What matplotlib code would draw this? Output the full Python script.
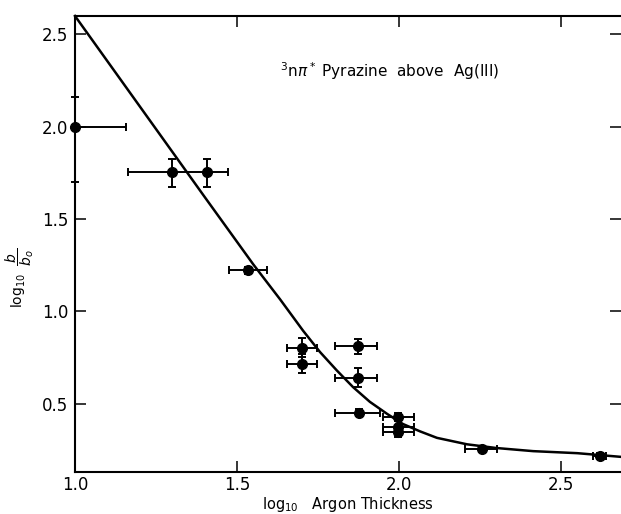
import numpy as np
import matplotlib.pyplot as plt

plt.rcParams.update({
    "font.family": "sans-serif",
    "font.sans-serif": ["DejaVu Sans"],
    "font.size": 11,
    "axes.linewidth": 1.5,
    "mathtext.fontset": "dejavusans",
})

# measured points (log10 argon thickness, log10 b/b0)
x_pts = [1.0, 1.30, 1.407, 1.534, 1.70, 1.70, 1.873, 1.873, 1.876,
         1.997, 1.997, 1.997, 2.256, 2.62]
y_pts = [2.0, 1.755, 1.755, 1.223, 0.804, 0.717, 0.81, 0.641, 0.451,
         0.429, 0.375, 0.348, 0.255, 0.217]
xerr_lo = [0.0, 0.136, 0.0, 0.06, 0.046, 0.046, 0.07, 0.07, 0.075,
           0.047, 0.047, 0.047, 0.052, 0.02]
xerr_hi = [0.157, 0.107, 0.065, 0.06, 0.046, 0.046, 0.06, 0.06, 0.065,
           0.05, 0.05, 0.05, 0.045, 0.02]
yerr_lo = [0.30, 0.08, 0.08, 0.02, 0.05, 0.05, 0.04, 0.05, 0.02,
           0.02, 0.03, 0.03, 0.015, 0.015]
yerr_hi = [0.16, 0.07, 0.07, 0.02, 0.05, 0.05, 0.04, 0.05, 0.02,
           0.02, 0.03, 0.03, 0.015, 0.015]

# fitted curve
x_fit = [1.0, 1.2, 1.4, 1.55, 1.633, 1.704, 1.756, 1.808, 1.858, 1.91,
         1.963, 2.012, 2.065, 2.117, 2.21, 2.3, 2.414, 2.55, 2.685]
y_fit = [2.60, 2.11, 1.62, 1.255, 1.065, 0.895, 0.78, 0.68, 0.59, 0.51,
         0.445, 0.39, 0.35, 0.315, 0.28, 0.26, 0.243, 0.232, 0.212]

ticks_x = [1.0, 1.5, 2.0, 2.5]
ticks_y = [0.5, 1.0, 1.5, 2.0, 2.5]

fig = plt.figure(figsize=(6.21, 5.14), dpi=100)
ax = fig.add_axes([0.1208, 0.0817, 0.8792, 0.8872])

ax.plot(x_fit, y_fit, color="black", lw=1.8, clip_on=False)

eb = ax.errorbar(x_pts, y_pts,
                 xerr=[xerr_lo, xerr_hi], yerr=[yerr_lo, yerr_hi],
                 fmt="o", color="black", ms=7, elinewidth=1.4,
                 capsize=3, capthick=1.4)
for art in eb.get_children():
    art.set_clip_on(False)

ax.set_xlim(1.0, 2.685)
ax.set_ylim(0.13, 2.60)
ax.set_xticks(ticks_x)
ax.set_yticks(ticks_y)
ax.set_xticklabels(["1.0", "1.5", "2.0", "2.5"])
ax.set_yticklabels(["0.5", "1.0", "1.5", "2.0", "2.5"])
ax.tick_params(direction="in", length=8, width=1.1, labelsize=12,
               top=True, right=True, pad=5)
ax.tick_params(axis="x", pad=3)
ax.spines["right"].set_visible(False)

ax.text(1.633, 2.30, r"$^3$n$\pi^*$ Pyrazine  above  Ag(III)",
        fontsize=11, va="center", ha="left")

ax.set_xlabel(r"log$_{10}$   Argon Thickness", fontsize=10.5)
ax.xaxis.set_label_coords(0.5, -0.05)
ax.set_ylabel(r"log$_{10}$  $\dfrac{b}{b_o}$", fontsize=10)
ax.yaxis.set_label_coords(-0.072, 0.425)

fig.savefig("out.png", dpi=100)
